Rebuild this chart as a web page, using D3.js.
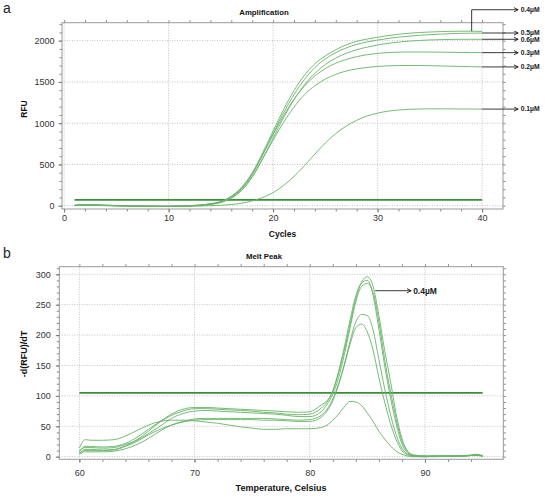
<!DOCTYPE html>
<html>
<head>
<meta charset="utf-8">
<script src="https://cdn.jsdelivr.net/npm/d3@7"></script>
<style>
  body { margin: 0; background: #fff; }
  svg { display: block; font-family: "Liberation Sans", Arial, sans-serif; }
</style>
</head>
<body>
<svg id="chart"></svg>
<script>
// ---- panel a: amplification (RFU per cycle) ----
let cycles = [1, 2, 3, 4, 5, 6, 7, 8, 9, 10, 11, 12, 13, 14, 15, 16, 17, 18, 19, 20,
              21, 22, 23, 24, 25, 26, 27, 28, 29, 30, 31, 32, 33, 34, 35, 36, 37, 38, 39, 40];
let amp04 = [5, 14, 10, 6, 3, 0, -3, -5, -6, -6, -4, 0, 8, 24, 50, 115, 225, 400, 640, 905,
             1165, 1395, 1580, 1720, 1815, 1890, 1950, 1992, 2020, 2042, 2062, 2078, 2090, 2099, 2105, 2110, 2113, 2115, 2115, 2112];
let amp05 = [3, 10, 8, 4, 1, -2, -4, -6, -7, -7, -5, -1, 6, 20, 45, 105, 210, 380, 615, 875,
             1125, 1345, 1530, 1675, 1780, 1855, 1912, 1955, 1985, 2008, 2027, 2042, 2055, 2065, 2073, 2080, 2085, 2089, 2091, 2093];
let amp06 = [2, 9, 7, 3, 0, -3, -5, -7, -8, -8, -6, -2, 4, 16, 38, 90, 185, 345, 570, 820,
             1065, 1285, 1465, 1605, 1712, 1790, 1848, 1890, 1922, 1948, 1968, 1983, 1995, 2003, 2009, 2013, 2015, 2017, 2017, 2017];
let amp03 = [4, 12, 9, 5, 2, -1, -3, -5, -6, -6, -4, 0, 7, 22, 50, 112, 215, 385, 615, 860,
             1090, 1290, 1450, 1572, 1662, 1727, 1772, 1806, 1830, 1846, 1856, 1861, 1863, 1863, 1862, 1861, 1859, 1858, 1856, 1855];
let amp02 = [2, 8, 6, 2, -1, -4, -6, -8, -9, -9, -7, -3, 4, 17, 42, 98, 195, 355, 570, 795,
             1010, 1195, 1345, 1455, 1535, 1592, 1632, 1658, 1676, 1688, 1695, 1699, 1700, 1699, 1697, 1694, 1691, 1688, 1685, 1682];
let amp01 = [0, 6, 4, 1, -2, -4, -6, -8, -9, -10, -9, -7, -4, 0, 5, 14, 30, 58, 100, 158,
             245, 355, 485, 625, 760, 875, 965, 1035, 1087, 1122, 1146, 1160, 1168, 1172, 1174, 1174, 1173, 1172, 1172, 1171];
let ampThreshold = 70;
let ampLabels = ["0.4\u00b5M", "0.5\u00b5M", "0.6\u00b5M", "0.3\u00b5M", "0.2\u00b5M", "0.1\u00b5M"];
let ampXTicks = [0, 10, 20, 30, 40];
let ampYTicks = [0, 500, 1000, 1500, 2000];

// ---- panel b: melt peak (-dRFU/dT per temperature) ----
let temps = [60, 60.5, 61, 62, 63, 64, 65, 66, 67, 68, 69, 70, 71, 72, 73, 74, 75, 76, 77, 78, 79, 80,
             81, 81.5, 82, 82.5, 83, 83.5, 84, 84.5, 85, 85.5, 86, 86.5, 87, 87.5, 88, 88.5, 89,
             90, 91, 92, 93, 94, 94.5, 95];
let melt1 = [8, 17, 17, 16, 17, 22, 32, 45, 58, 70, 78, 81, 81, 80, 79, 78, 77, 76, 75, 74, 73, 74,
             85, 92, 108, 138, 175, 218, 260, 287, 296, 280, 232, 175, 125, 70, 30, 9, 3,
             1, 1, 1, 1, 3, 4, 2];
let melt2 = [5, 12, 12, 11, 12, 18, 28, 42, 57, 68, 75, 79, 79, 78, 77, 76, 75, 73, 72, 70, 69, 70,
             80, 90, 108, 140, 180, 225, 265, 286, 290, 265, 210, 150, 98, 54, 21, 6, 2,
             1, 1, 1, 1, 2, 3, 1];
let melt3 = [10, 15, 15, 14, 15, 20, 27, 38, 50, 63, 71, 75, 76, 75, 74, 73, 72, 71, 70, 68, 66, 66,
             74, 86, 103, 130, 168, 212, 255, 280, 285, 270, 222, 160, 108, 62, 26, 8, 2,
             1, 1, 1, 1, 2, 3, 1];
let melt4 = [4, 8, 8, 8, 9, 13, 20, 30, 42, 52, 58, 62, 63, 63, 63, 63, 63, 63, 62, 61, 60, 61,
             68, 78, 95, 120, 152, 190, 222, 234, 232, 208, 160, 112, 70, 36, 14, 4, 1,
             0, 1, 1, 1, 2, 3, 1];
let melt5 = [6, 10, 10, 10, 11, 17, 25, 36, 45, 52, 57, 60, 61, 61, 61, 61, 61, 60, 60, 59, 58, 58,
             65, 75, 92, 118, 150, 185, 212, 218, 205, 175, 130, 90, 55, 28, 10, 3, 1,
             0, 1, 1, 1, 2, 2, 1];
let melt6 = [14, 28, 27, 27, 28, 34, 43, 52, 58, 60, 60, 59, 57, 55, 52, 49, 47, 45, 45, 46, 46, 46,
             48, 52, 60, 70, 82, 91, 90, 84, 72, 58, 42, 29, 18, 9, 4, 1, 0,
             0, 0, 1, 1, 2, 2, 1];
let meltThreshold = 105;
let meltLabel = "0.4\u00b5M";
let meltXTicks = [60, 70, 80, 90];
let meltYTicks = [0, 50, 100, 150, 200, 250, 300];

let svgWidth = 550, svgHeight = 498;
let svg = d3.select("#chart")
    .attr("width", svgWidth)
    .attr("height", svgHeight);

svg.append("defs").append("marker")
    .attr("id", "chev")
    .attr("viewBox", "0 0 6 6")
    .attr("refX", 5.5).attr("refY", 3)
    .attr("markerWidth", 5).attr("markerHeight", 5)
    .attr("markerUnits", "userSpaceOnUse")
    .attr("orient", "auto")
    .append("path")
    .attr("d", "M0.5,0.5 L5.5,3 L0.5,5.5")
    .attr("fill", "none")
    .attr("stroke", "#111")
    .attr("stroke-width", 1);

let curveColor = "#68b268";
let thresholdColor = "#3a8e3a";

function drawPanel(cfg) {
    let x = d3.scaleLinear().domain(cfg.xDomain).range([cfg.left, cfg.right]);
    let y = d3.scaleLinear().domain(cfg.yDomain).range([cfg.bottom, cfg.top]);
    let g = svg.append("g");

    // dotted grid at major ticks
    g.append("g").selectAll("line").data(cfg.xTicks).join("line")
        .attr("x1", d => x(d)).attr("x2", d => x(d))
        .attr("y1", cfg.top).attr("y2", cfg.bottom)
        .attr("stroke", "#c2c2c2").attr("stroke-dasharray", "1,1.5");
    g.append("g").selectAll("line").data(cfg.yTicks).join("line")
        .attr("x1", cfg.left).attr("x2", cfg.right)
        .attr("y1", d => y(d)).attr("y2", d => y(d))
        .attr("stroke", "#c2c2c2").attr("stroke-dasharray", "1,1.5");

    // minor ticks on all four sides
    let minor = [
        [d3.axisBottom(x).tickValues(cfg.xMinor), "translate(0," + cfg.bottom + ")"],
        [d3.axisTop(x).tickValues(cfg.xMinor), "translate(0," + cfg.top + ")"],
        [d3.axisLeft(y).tickValues(cfg.yMinor), "translate(" + cfg.left + ",0)"],
        [d3.axisRight(y).tickValues(cfg.yMinor), "translate(" + cfg.right + ",0)"]
    ];
    minor.forEach(function (m) {
        let a = g.append("g")
            .attr("transform", m[1])
            .call(m[0].tickSize(2.5).tickSizeOuter(0).tickFormat(""));
        a.select(".domain").remove();
        a.selectAll("line").attr("stroke", "#888");
    });

    // major ticks with labels
    let xa = g.append("g")
        .attr("transform", "translate(0," + cfg.bottom + ")")
        .call(d3.axisBottom(x).tickValues(cfg.xTicks).tickSize(3.5).tickSizeOuter(0)
            .tickPadding(cfg.xPad).tickFormat(d3.format("d")));
    let ya = g.append("g")
        .attr("transform", "translate(" + cfg.left + ",0)")
        .call(d3.axisLeft(y).tickValues(cfg.yTicks).tickSize(3.5).tickSizeOuter(0)
            .tickPadding(cfg.yPad).tickFormat(d3.format("d")));
    [xa, ya].forEach(function (a) {
        a.select(".domain").remove();
        a.selectAll("line").attr("stroke", "#777");
        a.selectAll("text").attr("fill", "#333").style("font-size", "9px")
            .style("font-family", "'Liberation Sans', Arial, sans-serif");
    });

    // plot frame
    g.append("rect")
        .attr("x", cfg.left).attr("y", cfg.top)
        .attr("width", cfg.right - cfg.left).attr("height", cfg.bottom - cfg.top)
        .attr("fill", "none").attr("stroke", "#9a9a9a");

    // threshold
    g.append("line")
        .attr("x1", x(cfg.xs[0])).attr("x2", x(cfg.xs[cfg.xs.length - 1]))
        .attr("y1", y(cfg.threshold)).attr("y2", y(cfg.threshold))
        .attr("stroke", thresholdColor).attr("stroke-width", 1.6);

    let line = d3.line()
        .x((d, i) => x(cfg.xs[i]))
        .y(d => y(d))
        .curve(d3.curveMonotoneX);

    cfg.series.forEach(function (s) {
        g.append("path")
            .datum(s)
            .attr("fill", "none")
            .attr("stroke", curveColor)
            .attr("stroke-opacity", 0.9)
            .attr("stroke-width", 1)
            .attr("stroke-linejoin", "round")
            .attr("d", line);
    });

    // panel title and axis titles
    g.append("text")
        .attr("x", cfg.titleX).attr("y", cfg.titleY)
        .attr("text-anchor", "middle")
        .style("font-size", "7.8px").style("font-weight", "bold").attr("fill", "#111")
        .text(cfg.title);
    g.append("text")
        .attr("x", cfg.xLabelX).attr("y", cfg.xLabelY)
        .attr("text-anchor", "middle")
        .style("font-size", cfg.xLabelSize).style("font-weight", "bold").attr("fill", "#111")
        .text(cfg.xLabel);
    g.append("text")
        .attr("transform", "translate(" + cfg.yLabelX + "," + cfg.yLabelY + ") rotate(-90)")
        .attr("text-anchor", "middle")
        .attr("dy", "0.35em")
        .style("font-size", cfg.yLabelSize).style("font-weight", "bold").attr("fill", "#111")
        .text(cfg.yLabel);
    g.append("text")
        .attr("x", 3).attr("y", cfg.letterY)
        .style("font-size", "14px").attr("fill", "#222")
        .text(cfg.letter);

    return { x: x, y: y, g: g };
}

// ---- panel a ----
let ampSeries = [amp04, amp05, amp06, amp03, amp02, amp01];
let pa = drawPanel({
    left: 62, right: 503, top: 22.7, bottom: 209,
    xDomain: [-0.2, 42], yDomain: [-40, 2218],
    xTicks: ampXTicks, yTicks: ampYTicks,
    xMinor: d3.range(0, 42, 2), yMinor: d3.range(0, 2201, 100),
    xPad: 2.5, yPad: 4,
    xs: cycles, series: ampSeries, threshold: ampThreshold,
    title: "Amplification", titleX: 264, titleY: 15,
    xLabel: "Cycles", xLabelX: 282.5, xLabelY: 237, xLabelSize: "8.5px",
    yLabel: "RFU", yLabelX: 24, yLabelY: 109, yLabelSize: "8.5px",
    letter: "a", letterY: 13
});

// concentration labels at the right end of each curve
let lastCycle = cycles[cycles.length - 1];
let arrowEnd = 43.45;
ampSeries.forEach(function (s, i) {
    let yEnd = pa.y(s[s.length - 1]);
    let path;
    if (i === 0) {
        // 0.4 µM is routed up above the frame
        let c = cycles[cycles.length - 2];
        let yTop = pa.y(2375);
        yEnd = yTop;
        path = "M" + pa.x(c) + "," + pa.y(s[s.length - 2]) + "V" + yTop + "H" + pa.x(arrowEnd);
    } else {
        path = "M" + pa.x(lastCycle) + "," + yEnd + "H" + pa.x(arrowEnd);
    }
    pa.g.append("path")
        .attr("d", path)
        .attr("fill", "none")
        .attr("stroke", "#222")
        .attr("stroke-width", 0.9)
        .attr("marker-end", "url(#chev)");
    pa.g.append("text")
        .attr("x", pa.x(arrowEnd) + 2.5).attr("y", yEnd)
        .attr("dy", "0.35em")
        .style("font-size", "6.8px").style("font-weight", "bold").attr("fill", "#222")
        .text(ampLabels[i]);
});

// ---- panel b ----
let pb = drawPanel({
    left: 59.3, right: 503.3, top: 266.7, bottom: 459.3,
    xDomain: [58.26, 96.8], yDomain: [-4.3, 312.5],
    xTicks: meltXTicks, yTicks: meltYTicks,
    xMinor: d3.range(60, 96, 2), yMinor: d3.range(0, 311, 10),
    xPad: 7, yPad: 5,
    xs: temps, series: [melt1, melt2, melt3, melt4, melt5, melt6], threshold: meltThreshold,
    title: "Melt Peak", titleX: 264, titleY: 258.5,
    xLabel: "Temperature, Celsius", xLabelX: 281, xLabelY: 491, xLabelSize: "9px",
    yLabel: "-d(RFU)/dT", yLabelX: 24, yLabelY: 354, yLabelSize: "9px",
    letter: "b", letterY: 257.5
});

let meltArrowStart = 85.68, meltArrowEnd = 88.8, meltArrowValue = 273;
pb.g.append("path")
    .attr("d", "M" + pb.x(meltArrowStart) + "," + pb.y(meltArrowValue) + "H" + pb.x(meltArrowEnd))
    .attr("fill", "none")
    .attr("stroke", "#222")
    .attr("stroke-width", 0.9)
    .attr("marker-end", "url(#chev)");
pb.g.append("text")
    .attr("x", pb.x(meltArrowEnd) + 2).attr("y", pb.y(meltArrowValue))
    .attr("dy", "0.35em")
    .style("font-size", "8.5px").style("font-weight", "bold").attr("fill", "#222")
    .text(meltLabel);
</script>
</body>
</html>
